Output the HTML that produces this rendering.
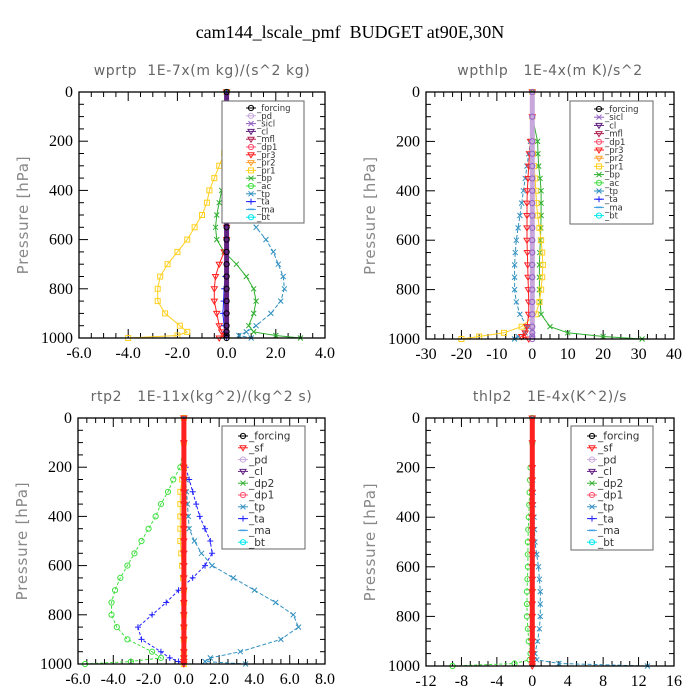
<!DOCTYPE html>
<html><head><meta charset="utf-8">
<style>
body{margin:0;background:#fff;}
svg{display:block;}
.tk{font-family:"Liberation Serif",serif;font-size:16px;fill:#000;}
.pt{font-family:"DejaVu Sans","Liberation Sans",sans-serif;font-size:14px;fill:#666;letter-spacing:0.6px;white-space:pre;}
.yl{font-family:"DejaVu Sans","Liberation Sans",sans-serif;font-size:15px;fill:#888;letter-spacing:0.8px;}
</style></head>
<body>
<svg id="chart" width="700" height="700" viewBox="0 0 700 700">
<rect width="700" height="700" fill="#fff"/>
<text x="350" y="38" text-anchor="middle" font-family="Liberation Serif,serif" font-size="18" xml:space="preserve">cam144_lscale_pmf  BUDGET at90E,30N</text>
</svg>
<script>
// shared pressure levels (hPa)
const pLevels = [0,100,200,250,300,350,400,450,500,550,600,650,700,750,800,850,900,950,975,990,1000];

// panel 1: wprtp
const p1Forcing = [0,0,0,0,0,0,0,0,0,0,0,0,0,0,0,0,0,0,0,0,0];
const p1Pr1 = [0,0,0,-0.1,-0.3,-0.5,-0.7,-0.8,-1.0,-1.3,-1.6,-2.0,-2.4,-2.7,-2.8,-2.8,-2.5,-1.9,-1.6,-2.0,-4.0];
const p1Tp  = [0,0,0.02,0.05,0.15,0.3,0.45,0.6,0.8,1.2,1.6,1.9,2.1,2.3,2.35,2.2,1.8,1.2,0.8,0.5,1.0];
const p1Bp  = [0,0,0,0,0,-0.1,-0.2,-0.3,-0.4,-0.45,-0.4,-0.1,0.4,0.8,1.1,1.2,1.1,0.9,1.1,2.0,3.0];
const p1Pr3 = [0,0,0,0,0,0,0,0,0,0,0,-0.1,-0.3,-0.45,-0.5,-0.5,-0.4,-0.3,-0.2,-0.1,-0.3];
const p1Ta  = [0,0,0,0,0,0,0,0,0,0,0,0,0,-0.05,-0.1,-0.12,-0.15,-0.1,-0.05,0,0];
// panel 2: wpthlp
const p2Forcing = [0,0,0,0,0,0,0,0,0,0,0,0,0,0,0,0,0,0,0,0,0];
const p2Tp  = [0,0,-0.5,-1,-1.5,-2,-2.5,-3,-3.5,-4,-4.5,-4.8,-5,-5,-5,-4.5,-3.5,-1.5,-2,-4,-5];
const p2Bp  = [0,0,1.5,1.6,1.8,2.2,2.5,2.5,2.5,2.4,2.3,2.1,2,2,2,2.2,2.5,5,10,20,31];
const p2Pr1 = [0,0,0,0.2,0.5,0.8,1,1.2,1.5,2,2.5,2.8,3,2.8,2.5,2,1,-3,-8,-15,-20];
const p2Pr3 = [0,0,-0.5,-0.8,-1,-1.2,-1.4,-1.5,-1.5,-1.5,-1.5,-1.4,-1.3,-1.2,-1.1,-1,-1,-1.5,-2,-3,-1];
// panel 3: rtp2
const p3Forcing = [0,0,0,0,0,0,0,0,0,0,0,0,0,0,0,0,0,0,0,0,0];
const p3Dp1 = [0,0,-0.2,-0.6,-0.9,-1.3,-1.6,-2.0,-2.4,-2.8,-3.2,-3.6,-3.9,-4.1,-4.1,-3.8,-3.2,-1.8,-1.3,-3.0,-5.6];
const p3Ta  = [0,0,0.1,0.3,0.5,0.7,0.9,1.2,1.5,1.6,1.2,0.5,-0.3,-1.0,-1.8,-2.6,-2.4,-1.3,-0.8,-0.3,0];
const p3Tp  = [0,0,0,0.1,0.15,0.2,0.25,0.3,0.6,1.0,1.6,2.8,4.0,5.2,6.2,6.5,5.5,3.2,1.5,1.2,3.5];
const p3Cl  = [0,0,0,-0.1,-0.2,-0.2,-0.2,-0.2,-0.2,-0.15,-0.1,-0.05,0,0,0,0,0,0,0,0,0];
// panel 4: thlp2
const p4Forcing = [0,0,0,0,0,0,0,0,0,0,0,0,0,0,0,0,0,0,0,0,0];
const p4Dp1 = [0,0,-0.2,-0.25,-0.3,-0.35,-0.4,-0.45,-0.5,-0.5,-0.5,-0.55,-0.6,-0.6,-0.6,-0.5,-0.4,-0.2,-0.3,-2,-9];
const p4Tp  = [0,0,0,0.05,0.1,0.15,0.2,0.25,0.3,0.5,0.7,0.8,0.9,0.9,0.9,0.8,0.6,0.3,0.5,3,13];

const legend1 = ["_forcing","_pd","_sicl","_cl","_mfl","_dp1","_pr3","_pr2","_pr1","_bp","_ac","_tp","_ta","_ma","_bt"];
const legend2 = ["_forcing","_sicl","_cl","_mfl","_dp1","_pr3","_pr2","_pr1","_bp","_ac","_tp","_ta","_ma","_bt"];
const legend3 = ["_forcing","_sf","_pd","_cl","_dp2","_dp1","_tp","_ta","_ma","_bt"];

const COL = {"_forcing":"#000","_pd":"#c8a8dc","_sicl":"#9060c0","_cl":"#602080","_mfl":"#b02050","_dp1":"#ff5070","_pr3":"#ff2020","_pr2":"#ffa030","_pr1":"#ffd020","_bp":"#30b030","_ac":"#40e040","_tp":"#3090c0","_ta":"#2020ff","_ma":"#40a0e0","_bt":"#00e8f0","_sf":"#ff2020","_dp2":"#30b030"};
const MK = {"_forcing":"o","_pd":"o","_sicl":"x","_cl":"v","_mfl":"v","_dp1":"o","_pr3":"v","_pr2":"v","_pr1":"s","_bp":"x","_ac":"o","_tp":"x","_ta":"+","_ma":"-","_bt":"o","_sf":"v","_dp2":"x"};
const NS="http://www.w3.org/2000/svg";
const svg=document.getElementById('chart');
function el(t,a,parent){const e=document.createElementNS(NS,t);for(const k in a)e.setAttribute(k,a[k]);(parent||svg).appendChild(e);return e;}

function marker(g,x,y,type,c){
  if(type==='o'){el('circle',{cx:x,cy:y,r:2.6,fill:'none',stroke:c,'stroke-width':1},g);}
  else if(type==='s'){el('rect',{x:x-2.5,y:y-2.5,width:5,height:5,fill:'none',stroke:c,'stroke-width':1},g);}
  else if(type==='v'){el('path',{d:`M${x-3} ${y-2}L${x+3} ${y-2}L${x} ${y+3}Z`,fill:'none',stroke:c,'stroke-width':1},g);}
  else if(type==='+'){el('path',{d:`M${x-3} ${y}H${x+3}M${x} ${y-3}V${y+3}`,stroke:c,'stroke-width':1},g);}
  else if(type==='-'){el('path',{d:`M${x-3} ${y}H${x+3}`,stroke:c,'stroke-width':1.5},g);}
  else {el('path',{d:`M${x-2.5} ${y-2.5}L${x+2.5} ${y+2.5}M${x-2.5} ${y+2.5}L${x+2.5} ${y-2.5}`,stroke:c,'stroke-width':1},g);}
}

function panel(cfg){
  const {x0,x1,y0,y1,xmin,xmax,xticks,xlabels,xminor,title,name}=cfg;
  const g=el('g',{});
  
  
  const sx=v=>x0+(v-xmin)/(xmax-xmin)*(x1-x0);
  const sy=p=>y0+p/1000*(y1-y0);
  const t=el('text',{x:(x0+x1)/2,y:y0-17,'text-anchor':'middle',class:'pt'},g);
  t.setAttributeNS('http://www.w3.org/XML/1998/namespace','xml:space','preserve');
  t.textContent=title;
  
  
  const yl=el('text',{x:0,y:0,'text-anchor':'middle',class:'yl',transform:`translate(${x0-51},${(y0+y1)/2}) rotate(-90)`},g);
  yl.textContent='Pressure [hPa]';
  
  
  for(let p=0;p<=1000;p+=50){
    const major=p%200===0, L=major?9:5;
    el('line',{x1:x0,x2:x0+L,y1:sy(p),y2:sy(p),stroke:'#000','stroke-width':1},g);
    el('line',{x1:x1,x2:x1-L,y1:sy(p),y2:sy(p),stroke:'#000','stroke-width':1},g);
    if(major){const tt=el('text',{x:x0-6,y:sy(p)+5,'text-anchor':'end',class:'tk'},g);tt.textContent=p;
      
      }
  }
  for(let v=xmin;v<=xmax+1e-9;v+=xminor){
    const major=xticks.some(m=>Math.abs(m-v)<1e-6),L=major?9:5;
    el('line',{x1:sx(v),x2:sx(v),y1:y0,y2:y0+L,stroke:'#000','stroke-width':1},g);
    el('line',{x1:sx(v),x2:sx(v),y1:y1,y2:y1-L,stroke:'#000','stroke-width':1},g);
  }
  xticks.forEach((v,i)=>{const tt=el('text',{x:sx(v),y:y1+20,'text-anchor':'middle',class:'tk'},g);tt.textContent=xlabels[i];
    
    });
  cfg.series.forEach(s=>{
    const sg=el('g',{},g);
    
    
    const d=s.vals.map((v,i)=>(i?'L':'M')+sx(v).toFixed(1)+' '+sy(pLevels[i]).toFixed(1)).join('');
    el('path',{d:d,fill:'none',stroke:s.c||COL[s.key],'stroke-width':s.w||1,'stroke-dasharray':s.dash||''},sg);
    s.vals.forEach((v,i)=>marker(sg,sx(v),sy(pLevels[i]),s.m,s.mc||COL[s.key]));
  });
  el('rect',{x:x0,y:y0,width:x1-x0,height:y1-y0,fill:'none',stroke:'#000','stroke-width':1.3},g);
  const L=cfg.legend;
  const lg=el('g',{},g);
  
  
  el('rect',{x:cfg.lx,y:cfg.ly,width:cfg.lw,height:cfg.lh,fill:'#fff',stroke:'#666','stroke-width':1},lg);
  L.forEach((n,i)=>{
    const y=cfg.ly+cfg.lfirst+i*cfg.lstep;
    el('line',{x1:cfg.lx+cfg.loff,x2:cfg.lx+cfg.loff+10,y1:y,y2:y,stroke:COL[n],'stroke-width':1},lg);
    marker(lg,cfg.lx+cfg.loff+5,y,MK[n],COL[n]);
    const tt=el('text',{x:cfg.lx+cfg.loff+11,y:y+cfg.lfs*0.35,'font-family':'DejaVu Sans,sans-serif','font-size':cfg.lfs,fill:'#333'},lg);
    tt.textContent=n;
    
    
  });
}

panel({name:'panel-wprtp',x0:79,x1:325,y0:92,y1:338,xmin:-6,xmax:4,xticks:[-6,-4,-2,0,2,4],xlabels:['-6.0','-4.0','-2.0','0.0','2.0','4.0'],xminor:0.5,
  title:'wprtp  1E-7x(m kg)/(s^2 kg)',
  series:[{key:'_pr1',vals:p1Pr1,m:'s'},{key:'_tp',vals:p1Tp,m:'x',dash:'4 2'},{key:'_bp',vals:p1Bp,m:'x'},{key:'_pr3',vals:p1Pr3,m:'v'},{key:'_ta',vals:p1Ta,m:'+'},{key:'_forcing',vals:p1Forcing,m:'o',w:5,c:'#602080',mc:'#000'}],
  legend:legend1,lx:222,ly:101,lw:82,lh:122,lfirst:7,lstep:7.8,loff:24,lfs:8.5});
panel({name:'panel-wpthlp',x0:426,x1:674,y0:92,y1:339,xmin:-30,xmax:40,xticks:[-30,-20,-10,0,10,20,30,40],xlabels:['-30','-20','-10','0','10','20','30','40'],xminor:2.5,
  title:'wpthlp   1E-4x(m K)/s^2',
  series:[{key:'_tp',vals:p2Tp,m:'x',dash:'4 2'},{key:'_bp',vals:p2Bp,m:'x'},{key:'_pr1',vals:p2Pr1,m:'s'},{key:'_pr3',vals:p2Pr3,m:'v'},{key:'_pd',vals:p2Forcing,m:'o',w:5,mc:'#9060c0'}],
  legend:legend2,lx:570,ly:101,lw:83,lh:123,lfirst:8,lstep:8.2,loff:24,lfs:8.5});
panel({name:'panel-rtp2',x0:78,x1:325,y0:418,y1:664,xmin:-6,xmax:8,xticks:[-6,-4,-2,0,2,4,6,8],xlabels:['-6.0','-4.0','-2.0','0.0','2.0','4.0','6.0','8.0'],xminor:0.5,
  title:'rtp2   1E-11x(kg^2)/(kg^2 s)',
  series:[{key:'_ac',vals:p3Dp1,m:'o',dash:'3 2'},{key:'_ta',vals:p3Ta,m:'+',dash:'3 2'},{key:'_tp',vals:p3Tp,m:'x',dash:'4 2'},{key:'_pr1',vals:p3Cl,m:'s'},{key:'_pr3',vals:p3Forcing,m:'v',w:5}],
  legend:legend3,lx:222,ly:426,lw:83,lh:123,lfirst:10,lstep:11.8,loff:16,lfs:10.5});
panel({name:'panel-thlp2',x0:426,x1:674,y0:418,y1:666,xmin:-12,xmax:16,xticks:[-12,-8,-4,0,4,8,12,16],xlabels:['-12','-8','-4','0','4','8','12','16'],xminor:1,
  title:'thlp2   1E-4x(K^2)/s',
  series:[{key:'_ac',vals:p4Dp1,m:'o',dash:'3 2'},{key:'_tp',vals:p4Tp,m:'x',dash:'4 2'},{key:'_pr3',vals:p4Forcing,m:'v',w:5}],
  legend:legend3,lx:571,ly:426,lw:82,lh:124,lfirst:10,lstep:11.8,loff:16,lfs:10.5});
</script>
</body></html>
